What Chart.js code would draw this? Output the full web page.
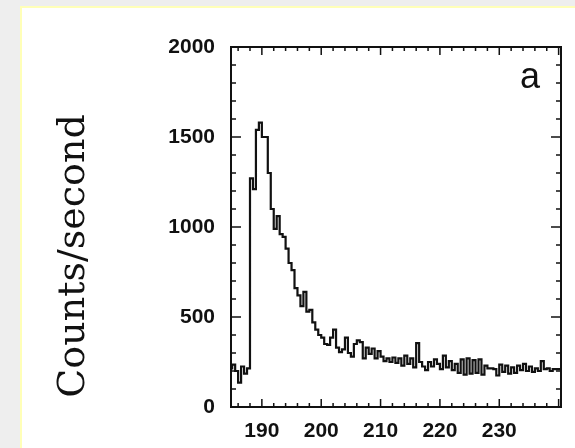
<!DOCTYPE html>
<html><head><meta charset="utf-8">
<script src="https://cdn.jsdelivr.net/npm/chart.js@4/dist/chart.umd.min.js"></script>
<style>
html,body{margin:0;padding:0;background:#eeeeee;width:575px;height:448px;overflow:hidden}
#box{position:absolute;left:20px;top:6px;width:560px;height:450px;background:#fff;border-left:2px solid #ffffb8;border-top:2px solid #ffffb8;}
#wrap{position:absolute;left:0;top:0;width:575px;height:448px}
</style></head><body>
<div id="box"></div>
<div id="wrap"><canvas id="c" width="575" height="448"></canvas></div>
<script>
const energy = [184.5,185.0,185.5,186.0,186.5,187.0,187.5,188.0,188.5,189.0,189.5,190.0,190.5,191.0,191.5,192.0,192.5,193.0,193.5,194.0,194.5,195.0,195.5,196.0,196.5,197.0,197.5,198.0,198.5,199.0,199.5,200.0,200.5,201.0,201.5,202.0,202.5,203.0,203.5,204.0,204.5,205.0,205.5,206.0,206.5,207.0,207.5,208.0,208.5,209.0,209.5,210.0,210.5,211.0,211.5,212.0,212.5,213.0,213.5,214.0,214.5,215.0,215.5,216.0,216.5,217.0,217.5,218.0,218.5,219.0,219.5,220.0,220.5,221.0,221.5,222.0,222.5,223.0,223.5,224.0,224.5,225.0,225.5,226.0,226.5,227.0,227.5,228.0,228.5,229.0,229.5,230.0,230.5,231.0,231.5,232.0,232.5,233.0,233.5,234.0,234.5,235.0,235.5,236.0,236.5,237.0,237.5,238.0,238.5,239.0,239.5,240.0,240.5];
const counts = [205,215,235,200,135,225,185,215,1270,1210,1540,1580,1500,1500,1300,1100,990,1060,960,945,880,800,760,660,620,560,640,530,540,470,430,400,385,350,345,385,430,330,305,320,385,300,280,350,370,360,270,330,295,325,270,310,280,255,270,250,275,245,270,230,285,240,270,220,355,250,225,205,250,225,265,240,210,285,220,255,205,240,190,265,180,270,185,260,190,265,180,230,215,215,210,175,235,195,230,185,220,190,230,205,240,200,225,195,215,200,255,210,215,200,210,210,210];
const xTicks = [190,200,210,220,230];
const yTicks = [0,500,1000,1500,2000];
const yTitle = 'Counts/second';
const panelLabel = 'a';

const tickFont = {family:'"Liberation Sans", Arial, sans-serif', size:21, weight:'bold'};

const framePlugin = {
  id:'frame',
  afterDraw(chart){
    const ctx = chart.ctx, a = chart.chartArea;
    const xs = chart.scales.x, ys = chart.scales.y;
    ctx.save();
    ctx.strokeStyle = '#111';
    ctx.lineWidth = 2;
    ctx.strokeRect(a.left, a.top, a.right - a.left, a.bottom - a.top);
    ctx.lineWidth = 1.5;
    ctx.beginPath();
    for (let v = 186; v <= 240; v += 2) {
      const px = xs.getPixelForValue(v);
      if (px < a.left + 1 || px > a.right - 1) continue;
      const len = (v % 10 === 0) ? 8 : 4;
      ctx.moveTo(px, a.bottom); ctx.lineTo(px, a.bottom - len);
      ctx.moveTo(px, a.top); ctx.lineTo(px, a.top + len);
    }
    for (let v = 100; v < 2000; v += 100) {
      const py = ys.getPixelForValue(v);
      const len = (v % 500 === 0) ? 10 : 5;
      ctx.moveTo(a.left, py); ctx.lineTo(a.left + len, py);
      ctx.moveTo(a.right, py); ctx.lineTo(a.right - len, py);
    }
    ctx.stroke();
    ctx.fillStyle = '#111';
    ctx.save();
    ctx.translate(74, 256);
    ctx.rotate(-Math.PI/2);
    ctx.font = '38px "DejaVu Serif", serif';
    ctx.textAlign = 'center';
    ctx.textBaseline = 'middle';
    ctx.fillText(yTitle, 0, 0);
    ctx.restore();
    ctx.font = '36px "Liberation Sans", Arial, sans-serif';
    ctx.textAlign = 'center';
    ctx.textBaseline = 'middle';
    ctx.fillText(panelLabel, 530, 78);
    ctx.restore();
  }
};

new Chart(document.getElementById('c'), {
  type:'line',
  data:{datasets:[{
    data: energy.map((x,i)=>({x:x, y:counts[i]})),
    stepped:'after',
    borderColor:'#111',
    borderWidth:2.2,
    pointRadius:0,
    fill:false,
    tension:0
  }]},
  options:{
    responsive:false,
    animation:false,
    devicePixelRatio:1,
    layout:{padding:{top:47, right:14, left:0, bottom:0}},
    plugins:{legend:{display:false}, tooltip:{enabled:false}},
    scales:{
      x:{type:'linear', min:184.8, max:240.4, position:'bottom',
        grid:{display:false, drawTicks:false}, border:{display:false},
        ticks:{font:tickFont, color:'#111', padding:12, maxRotation:0, autoSkip:false, callback:v=>String(v)},
        afterBuildTicks:s=>{s.ticks = xTicks.map(v=>({value:v}));},
        afterFit:s=>{s.height = 41;}
      },
      y:{type:'linear', min:0, max:2000,
        grid:{display:false, drawTicks:false}, border:{display:false},
        ticks:{font:tickFont, color:'#111', padding:16, callback:v=>String(v)},
        afterBuildTicks:s=>{s.ticks = yTicks.map(v=>({value:v}));},
        afterFit:s=>{s.width = 231;}
      }
    }
  },
  plugins:[framePlugin]
});
</script>
</body></html>
